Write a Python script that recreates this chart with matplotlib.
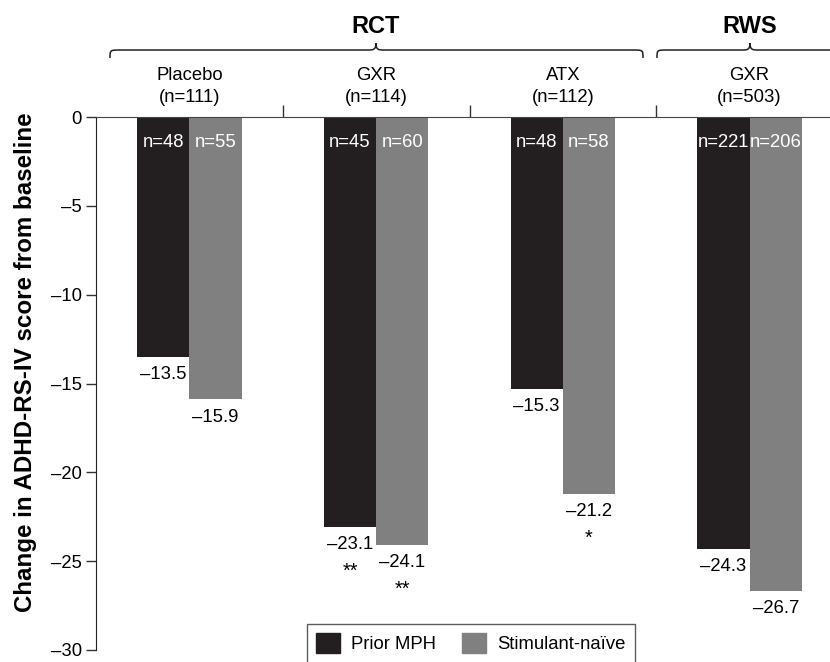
import matplotlib
matplotlib.use("Agg")
import matplotlib.pyplot as plt
from matplotlib.path import Path
from matplotlib.patches import PathPatch, Patch
import numpy as np

plt.rcParams['font.family'] = ['Liberation Sans', 'DejaVu Sans']

groups = ["Placebo\n(n=111)", "GXR\n(n=114)", "ATX\n(n=112)", "GXR\n(n=503)"]
prior_mph = [-13.5, -23.1, -15.3, -24.3]
stim_naive = [-15.9, -24.1, -21.2, -26.7]
n_prior = ["n=48", "n=45", "n=48", "n=221"]
n_naive = ["n=55", "n=60", "n=58", "n=206"]
sig_prior = ["", "**", "", ""]
sig_naive = ["", "**", "*", ""]
yticks = [0, -5, -10, -15, -20, -25, -30]

dark = "#231f20"
grey = "#808080"
FS = 13.3

fig = plt.figure(figsize=(8.3, 6.62), dpi=100)
ax = fig.add_axes([96/830, 1-650/662, 747/830, (650-117)/662])

x = np.arange(len(groups))
w = 0.28
ax.bar(x - w/2, prior_mph, w, color=dark, label="Prior MPH")
ax.bar(x + w/2, stim_naive, w, color=grey, label="Stimulant-naïve")

ax.set_xlim(-0.5, 3.5)
ax.set_ylim(-30, 0)
ax.set_yticks(yticks)
ax.set_yticklabels(["0" if t == 0 else "\u2013%d" % -t for t in yticks], fontsize=FS)
ax.tick_params(axis='y', length=7, width=1, color="#333333", pad=3)
ax.xaxis.tick_top()
ax.set_xticks([0.5, 1.5, 2.5])
ax.set_xticklabels([])
ax.tick_params(axis='x', direction='out', length=9, width=1, color="#333333")
for s in ["right", "bottom"]:
    ax.spines[s].set_visible(False)
ax.spines["top"].set_color("#444444")
ax.spines["left"].set_color("#222222")
ax.set_ylabel("Change in ADHD-RS-IV score from baseline", fontsize=17.4,
              fontweight="bold")
ax.yaxis.set_label_coords(-0.079, 0.54)

for i in range(len(groups)):
    for xx, val, nl, sg in [(x[i]-w/2, prior_mph[i], n_prior[i], sig_prior[i]),
                            (x[i]+w/2, stim_naive[i], n_naive[i], sig_naive[i])]:
        ax.text(xx, -1.45, nl, color="white", ha="center", va="center", fontsize=FS)
        ax.annotate("\u2013%.1f" % -val, (xx, val), xytext=(0, -6.5), textcoords="offset points",
                    ha="center", va="top", fontsize=FS)
        if sg:
            ax.annotate(sg, (xx, val), xytext=(0, -25), textcoords="offset points",
                        ha="center", va="top", fontsize=FS+1)
    ax.text(x[i], 1.72, groups[i], ha="center", va="center", fontsize=FS, linespacing=1.35,
            clip_on=False)

def brace(x0, x1, xm, yb, yt, yp, r=0.055, c=0.045):
    verts = [(x0, yb),
             (x0, yt), (x0, yt), (x0 + r, yt),
             (xm - c, yt),
             (xm - c/3, yt), (xm, yt), (xm, yp),
             (xm, yt), (xm + c/3, yt), (xm + c, yt),
             (x1 - r, yt),
             (x1, yt), (x1, yt), (x1, yb)]
    codes = [Path.MOVETO,
             Path.CURVE4, Path.CURVE4, Path.CURVE4,
             Path.LINETO,
             Path.CURVE4, Path.CURVE4, Path.CURVE4,
             Path.CURVE4, Path.CURVE4, Path.CURVE4,
             Path.LINETO,
             Path.CURVE4, Path.CURVE4, Path.CURVE4]
    ax.add_patch(PathPatch(Path(verts, codes), fill=False, lw=1.1, ec="#222222",
                           clip_on=False))

brace(-0.425, 2.429, 0.999, 3.32, 3.77, 4.16)
brace(2.504, 3.6, 3.002, 3.32, 3.77, 4.16)
ax.text(0.999, 5.1, "RCT", ha="center", va="center", fontsize=17, fontweight="bold", clip_on=False)
ax.text(3.002, 5.1, "RWS", ha="center", va="center", fontsize=17, fontweight="bold", clip_on=False)

handles = [Patch(color=dark, label="Prior MPH"), Patch(color=grey, label="Stimulant-naïve")]
leg = fig.legend(handles=handles, loc="upper center", bbox_to_anchor=(471/830, 1-624/662),
                 ncol=2, fontsize=FS, frameon=True, fancybox=False, edgecolor="#333333",
                 handlelength=1.3, handleheight=1.3, columnspacing=1.4, handletextpad=0.6,
                 borderpad=0.5, borderaxespad=0)
leg.get_frame().set_linewidth(1.0)

fig.savefig("out.png", dpi=100)
